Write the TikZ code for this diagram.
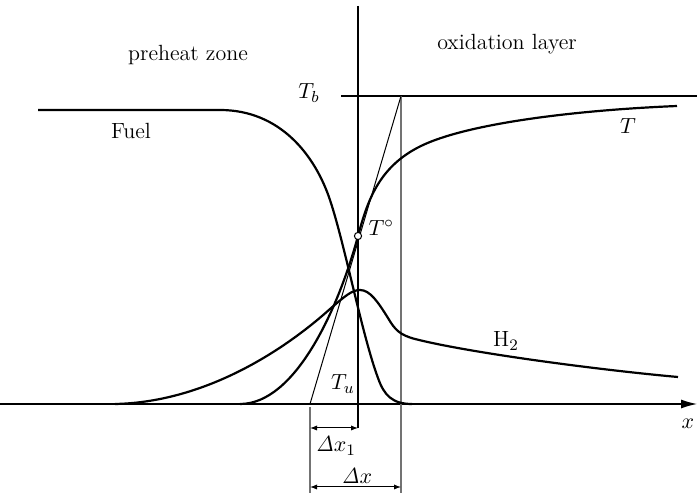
\documentclass[tikz,border=0pt]{standalone}
\usepackage{tikz}
\usetikzlibrary{
  arrows.meta,
  positioning,
  calc
}
\tikzset{
  curve/.style={line width=1.1pt},
  guide/.style={line width=0.6pt},
  faint/.style={line width=0.6pt, black!55},
  dimline/.style={
    line width=0.5pt,
    {Latex[length=3.5pt,width=2.6pt]}-{Latex[length=3.5pt,width=2.6pt]}
  },
  zonelbl/.style={font=\fontsize{11}{13}\selectfont, inner sep=1pt},
  sym/.style={font=\fontsize{11}{13}\selectfont, inner sep=1pt},
  marker/.style={circle, draw, fill=white, line width=0.5pt,
    inner sep=0pt, minimum size=3.6pt},
}

\begin{document}
\begin{tikzpicture}[x=0.5pt, y=-0.5pt]
\useasboundingbox (0,0) rectangle (697,502);

% ── Axis ──────────────────────────────────────────────────────────────────────
\coordinate (o)    at (0,404);
\coordinate (xend) at (697,404);
\draw[guide, -{Latex[length=8pt,width=4.5pt]}] (o) -- (xend);
\node[sym] (xlab) at (688,424) {$x$};

% ── Guide lines ───────────────────────────────────────────────────────────────
\coordinate (ftop) at (358,6);
\coordinate (fbot) at (358,428);
\draw[guide] (ftop) -- (fbot);

\coordinate (tb0) at (341,96);
\coordinate (tb1) at (697,96);
\draw[guide] (tb0) -- (tb1);

\coordinate (tbc)  at (401,96);
\coordinate (rbot) at (401,493);
\draw[faint] (tbc) -- (rbot);

\coordinate (foot) at (310,404);
\coordinate (lbot) at (310,493);
\draw[faint] ($(foot)+(0,3)$) -- (lbot);

% tangent through the inflection point
\draw[line width=0.5pt] (tbc) -- (foot);

% ── Profiles ──────────────────────────────────────────────────────────────────
% fuel
\draw[curve] (38,110) -- (220,110)
  .. controls (280,110) and (315,155) .. (330,200)
  .. controls (345,245) and (362,335) .. (378,378)
  .. controls (384,395) and (392,404) .. (412,404);
% temperature
\draw[curve] (240,404)
  .. controls (295,404) and (338,310) .. (358,236)
  .. controls (368,199) and (380,162) .. (430,142)
  .. controls (480,122) and (580,110) .. (677,106);
% hydrogen
\draw[curve] (115,404)
  .. controls (210,402) and (290,345) .. (330,309)
  .. controls (345,296) and (352,290) .. (360,290)
  .. controls (370,290) and (378,302) .. (388,318)
  .. controls (395,330) and (400,335) .. (415,339)
  .. controls (470,353) and (600,370) .. (678,377);

% ── Inflection marker ─────────────────────────────────────────────────────────
\node[marker] (Tzero) at (358,236) {};
\node[sym, right=2pt of Tzero, yshift=4pt] (Tzerolab) {$T^{\circ}$};

% ── Dimensions ────────────────────────────────────────────────────────────────
\coordinate (dx0) at (310,487);
\coordinate (dx1) at (401,487);
\draw[dimline] (lbot |- fbot) -- (fbot);
\draw[dimline] (dx0) -- (dx1);
\node[sym] (dxonelab) at (336,446) {$\mathit{\Delta}x_1$};
\node[sym] (dxlab)    at (357,476) {$\mathit{\Delta}x$};

% ── Labels ────────────────────────────────────────────────────────────────────
\node[zonelbl] (prelab)  at (188,55)  {preheat zone};
\node[zonelbl] (oxlab)   at (507,44)  {oxidation layer};
\node[zonelbl] (fuellab) at (131,131) {Fuel};
\node[sym]     (Tlab)    at (628,126) {$T$};
\node[zonelbl] (htwolab) at (506,341) {H$_2$};
\node[sym]     (Tblab)   at (309,93)  {$T_b$};
\node[sym]     (Tulab)   at (343,384) {$T_u$};

\end{tikzpicture}
\end{document}
